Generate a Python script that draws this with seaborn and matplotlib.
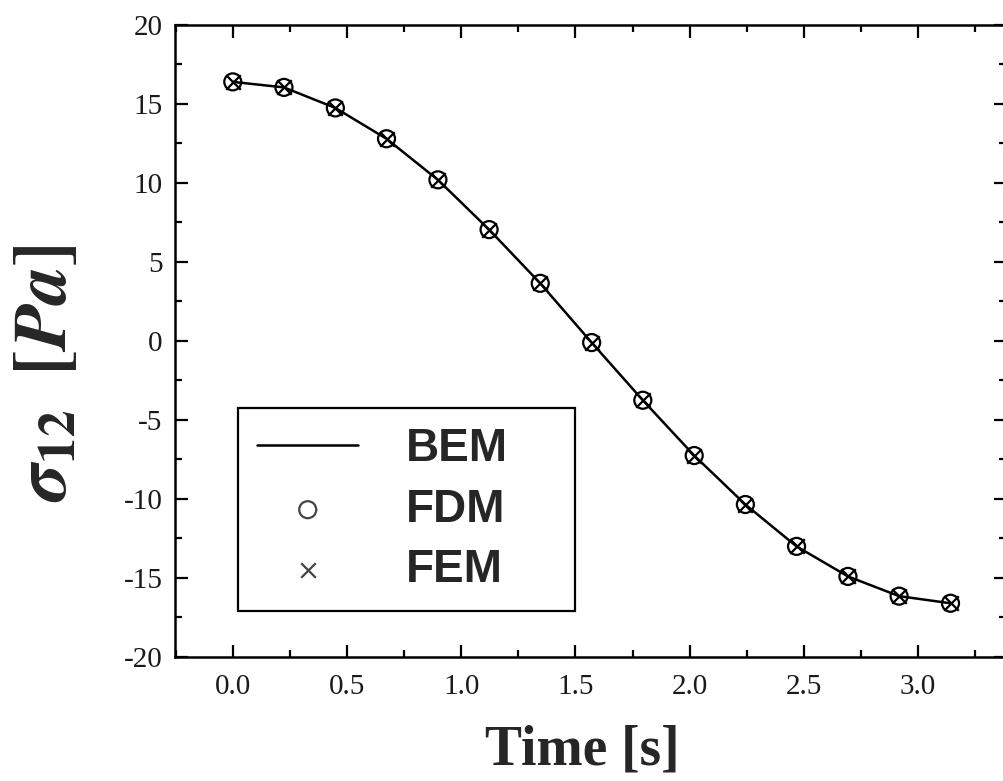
import numpy as np
import pandas as pd
import seaborn as sns
import matplotlib.pyplot as plt
from matplotlib.ticker import MultipleLocator

# values
time_s = [0.0, 0.224, 0.449, 0.673, 0.898, 1.122, 1.346, 1.571,
          1.795, 2.020, 2.244, 2.468, 2.693, 2.917, 3.142]
sigma_bem = [16.4, 16.05, 14.75, 12.8, 10.2, 7.05, 3.65, -0.1,
             -3.75, -7.25, -10.35, -13.0, -14.9, -16.15, -16.6]
sigma_fdm = [16.4, 16.05, 14.75, 12.8, 10.2, 7.05, 3.65, -0.1,
             -3.75, -7.25, -10.35, -13.0, -14.9, -16.15, -16.6]
sigma_fem = [16.4, 16.05, 14.75, 12.8, 10.2, 7.05, 3.65, -0.1,
             -3.75, -7.25, -10.35, -13.0, -14.9, -16.15, -16.6]
x_ticks = [0.0, 0.5, 1.0, 1.5, 2.0, 2.5, 3.0]
y_ticks = [-20, -15, -10, -5, 0, 5, 10, 15, 20]

sns.set_theme(style='ticks')
plt.rcParams['font.family'] = ['Liberation Serif', 'DejaVu Serif']
plt.rcParams['mathtext.fontset'] = 'stix'

df = pd.DataFrame({'time': time_s, 'bem': sigma_bem, 'fdm': sigma_fdm, 'fem': sigma_fem})

fig = plt.figure(figsize=(10.04, 7.81), dpi=100)
ax = fig.add_axes([0.1743, 0.1588, 0.8277, 0.8092])

sns.lineplot(data=df, x='time', y='bem', ax=ax, color='black', linewidth=1.8, label='BEM')
sns.scatterplot(data=df, x='time', y='fdm', ax=ax, marker='o', s=150,
                facecolor='none', edgecolor='black', linewidth=1.6, label='FDM', zorder=3)
sns.scatterplot(data=df, x='time', y='fem', ax=ax, marker='x', s=110,
                color='black', linewidth=1.6, label='FEM', zorder=4)

ax.set_xlim(-0.253, 3.385)
ax.set_ylim(-20, 20)
ax.set_xticks(x_ticks)
ax.set_xticklabels(['{:.1f}'.format(x) for x in x_ticks])
ax.set_yticks(y_ticks)
ax.set_yticklabels(['{:d}'.format(y) for y in y_ticks])
ax.xaxis.set_minor_locator(MultipleLocator(0.25))
ax.yaxis.set_minor_locator(MultipleLocator(2.5))
ax.tick_params(which='both', direction='in', top=True, right=True, width=1.6, color='black')
ax.tick_params(which='major', length=9, labelsize=21, pad=9, labelcolor='#1a1a1a')
ax.tick_params(axis='x', which='major', pad=12)
ax.tick_params(which='minor', length=5)
for s in ax.spines.values():
    s.set_linewidth(1.8)
    s.set_color('black')

ax.set_xlabel('Time [s]', fontsize=40, fontweight='bold', labelpad=18)
ax.xaxis.label.set_x(0.49)
ax.set_ylabel(r'$\mathbfit{\sigma}_{\mathbf{12}}\;\ \mathbf{[}\mathbfit{Pa}\mathbf{]}$',
              fontsize=54, labelpad=30)
ax.yaxis.label.set_y(0.45)

leg = ax.legend(loc='upper left', bbox_to_anchor=(0.0759, 0.0, 0.406, 0.394),
                mode='expand', frameon=True, fancybox=False, edgecolor='black',
                prop={'family': 'Liberation Sans', 'weight': 'bold', 'size': 33},
                handlelength=2.2, handletextpad=1.05, borderpad=0.42,
                labelspacing=0.36, borderaxespad=0, markerscale=1.0)
leg.get_frame().set_linewidth(1.6)
leg.get_frame().set_alpha(1)
for h in leg.legend_handles[1:]:
    h.set_edgecolor('#444444')

fig.savefig('out.png', dpi=100)
